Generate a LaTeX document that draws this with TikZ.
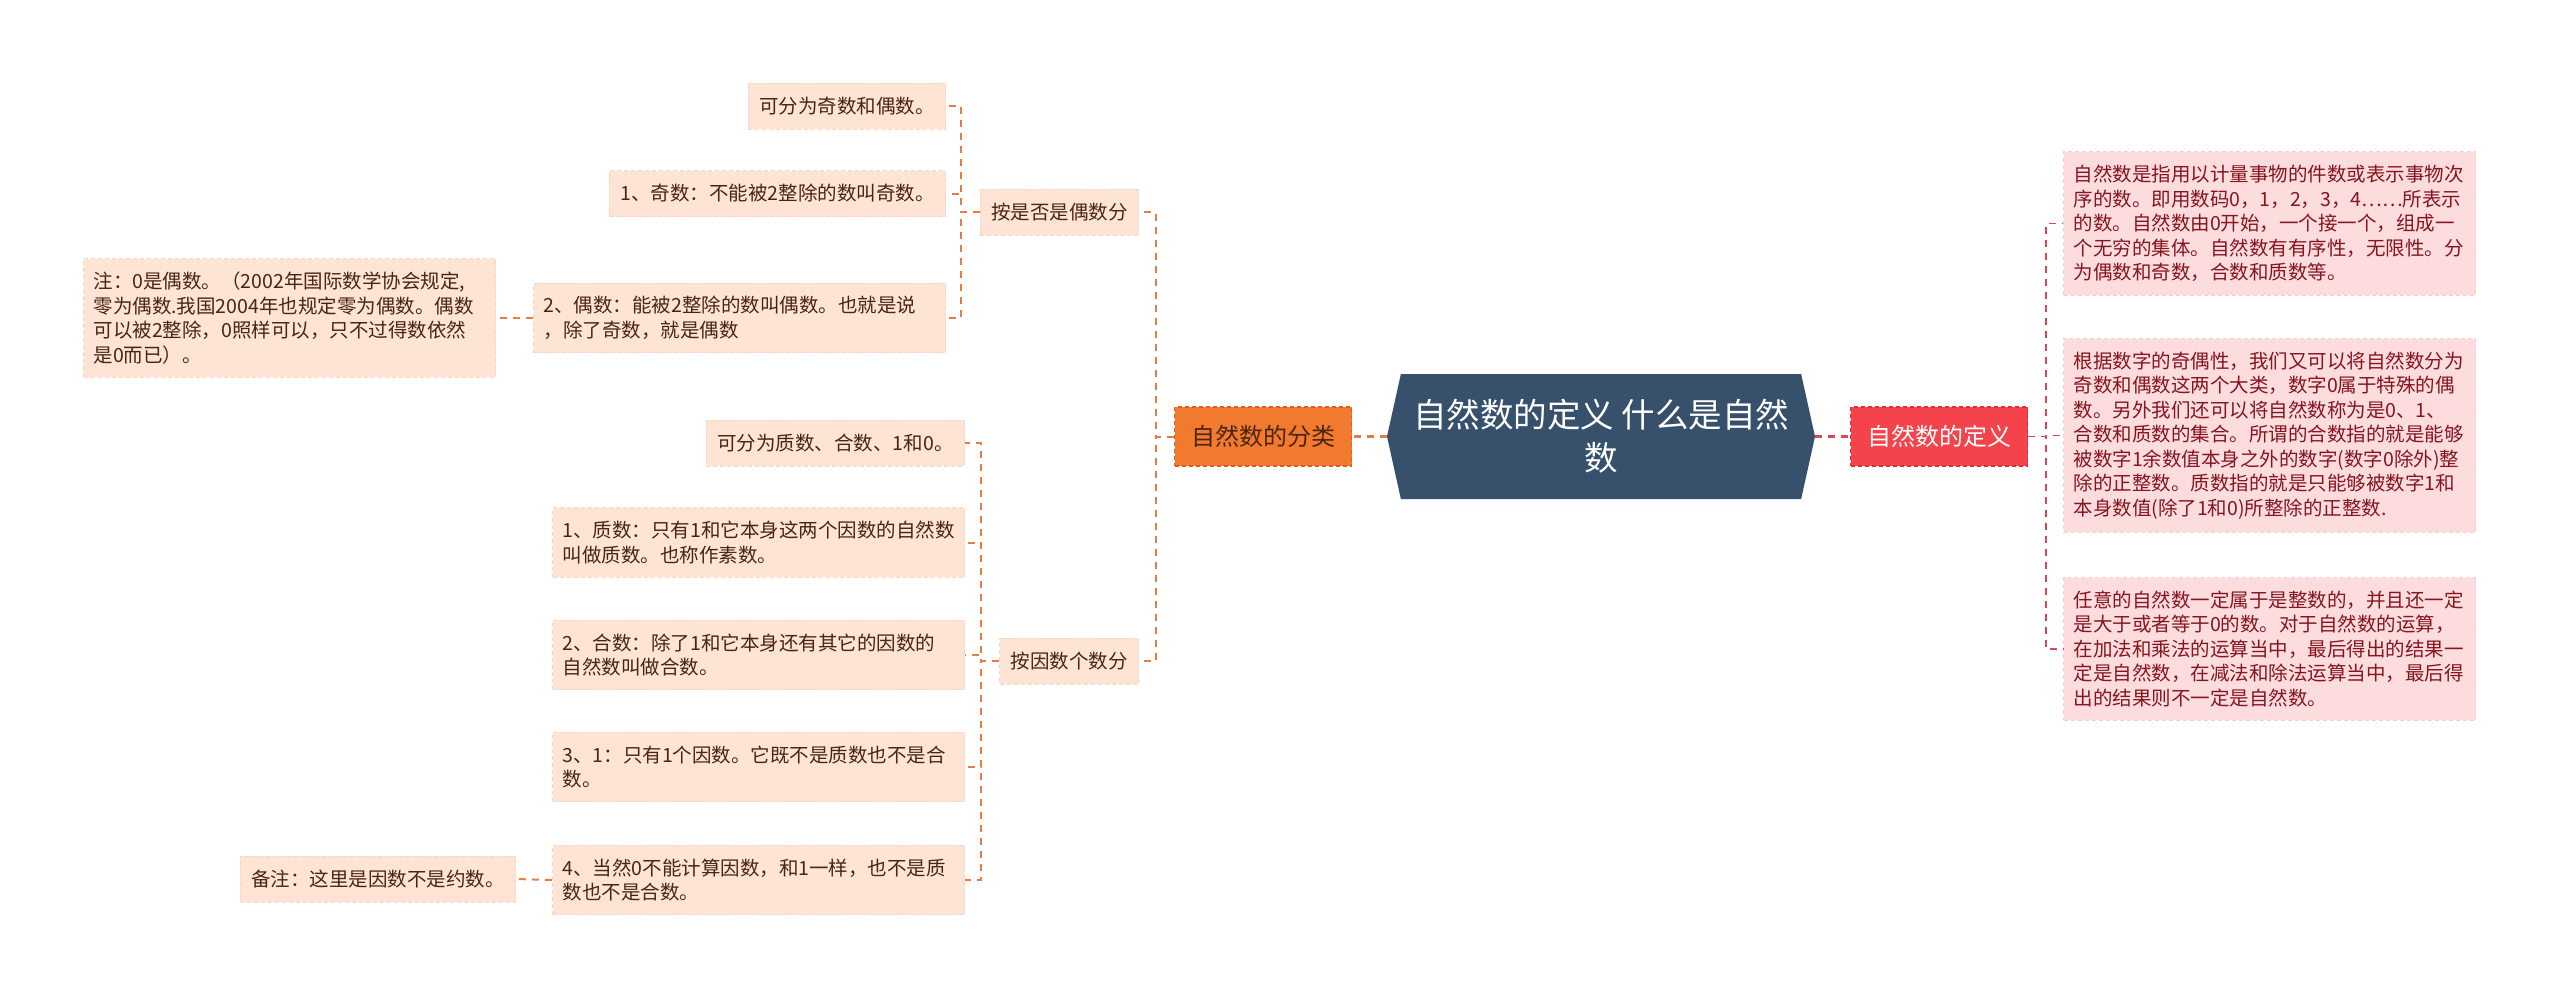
\documentclass[tikz,border=0pt]{standalone}
\usepackage{fontspec}
\setmainfont{Noto Sans CJK SC}
\usetikzlibrary{shapes.symbols}
\definecolor{rootbg}{HTML}{37506B}
\definecolor{clsbg}{HTML}{F17A2E}
\definecolor{clsbd}{HTML}{D9621C}
\definecolor{defbg}{HTML}{F5434B}
\definecolor{defbd}{HTML}{DD303A}
\definecolor{leafbg}{HTML}{FDE4D5}
\definecolor{leafbd}{HTML}{F9D6C2}
\definecolor{rleafbg}{HTML}{FDDCDE}
\definecolor{rleafbd}{HTML}{F8CCD0}
\definecolor{leaftxt}{HTML}{4A2512}
\definecolor{rleaftxt}{HTML}{85151F}
\definecolor{lineL}{HTML}{E57E45}
\definecolor{lineR}{HTML}{DE4752}
\def\fs{\fontsize{9.75}{12.25}\selectfont}

\tikzset{
  box/.style={rectangle, inner xsep=5.5pt, inner ysep=6.6pt, minimum height=23pt,
    font=\fs, dash pattern=on 2pt off 1.5pt, line width=0.5pt},
  lbox/.style={box, fill=leafbg, draw=leafbd, text=leaftxt, anchor=east},
  rbox/.style={box, fill=rleafbg, draw=rleafbd, text=rleaftxt, anchor=west, wide},
  wide/.style={text width=196pt, align=left, inner xsep=5pt},
  topic/.style={rectangle, minimum width=88.5pt, minimum height=29.5pt,
    font=\fontsize{12}{14}\selectfont, dash pattern=on 2pt off 1.5pt, line width=0.7pt},
  root/.style={shape=signal, signal to=west and east, signal pointer angle=155,
    fill=rootbg, text=white, align=center, inner sep=0pt,
    minimum width=214pt, minimum height=62.5pt,
    font=\fontsize{16.75}{21.5}\selectfont},
  lline/.style={draw=lineL, line width=1pt, dash pattern=on 3.5pt off 3pt},
  rline/.style={draw=lineR, line width=0.8pt, dash pattern=on 3.5pt off 3pt},
}

\begin{document}
\begin{tikzpicture}[x=0.5pt,y=-0.5pt]
\useasboundingbox (0,0) rectangle (2560,998);

\node[root] (root) at (1601,436.5) {自然数的定义 什么是自然\\数};
\node[topic, fill=clsbg, draw=clsbd, text=leaftxt] (cls) at (1263,436.5) {自然数的分类};
\node[topic, fill=defbg, draw=defbd, text=white] (def) at (1939,436.5) {自然数的定义};

\node[lbox] (even) at (1139,212) {按是否是偶数分};
\node[lbox] (factor) at (1139,661) {按因数个数分};

\node[lbox] (e0) at (946,106) {可分为奇数和偶数。};
\node[lbox] (e1) at (946,193.5) {1、奇数：不能被2整除的数叫奇数。};
\node[lbox, wide] (e2) at (946,318) {2、偶数：能被2整除的数叫偶数。也就是说\\，除了奇数，就是偶数};
\node[lbox, wide] (note) at (496,318) {注：0是偶数。（2002年国际数学协会规定,\\零为偶数.我国2004年也规定零为偶数。偶数\\可以被2整除，0照样可以，只不过得数依然\\是0而已）。};

\node[lbox] (f0) at (965,443) {可分为质数、合数、1和0。};
\node[lbox, wide] (f1) at (965,542.5) {1、质数：只有1和它本身这两个因数的自然数\\叫做质数。也称作素数。};
\node[lbox, wide] (f2) at (965,655) {2、合数：除了1和它本身还有其它的因数的\\自然数叫做合数。};
\node[lbox, wide] (f3) at (965,767) {3、1：只有1个因数。它既不是质数也不是合\\数。};
\node[lbox, wide] (f4) at (965,880) {4、当然0不能计算因数，和1一样，也不是质\\数也不是合数。};
\node[lbox] (remark) at (516,879) {备注：这里是因数不是约数。};

\node[rbox] (d1) at (2063,223.5) {自然数是指用以计量事物的件数或表示事物次\\序的数。即用数码0，1，2，3，4……所表示\\的数。自然数由0开始，一个接一个，组成一\\个无穷的集体。自然数有有序性，无限性。分\\为偶数和奇数，合数和质数等。};
\node[rbox] (d2) at (2063,435.5) {根据数字的奇偶性，我们又可以将自然数分为\\奇数和偶数这两个大类，数字0属于特殊的偶\\数。另外我们还可以将自然数称为是0、1、\\合数和质数的集合。所谓的合数指的就是能够\\被数字1余数值本身之外的数字(数字0除外)整\\除的正整数。质数指的就是只能够被数字1和\\本身数值(除了1和0)所整除的正整数.};
\node[rbox] (d3) at (2063,649) {任意的自然数一定属于是整数的，并且还一定\\是大于或者等于0的数。对于自然数的运算，\\在加法和乘法的运算当中，最后得出的结果一\\定是自然数，在减法和除法运算当中，最后得\\出的结果则不一定是自然数。};

\draw[lline, line width=1.5pt] (root.west) -- (cls.east);
\draw[rline, line width=1.5pt] (root.east) -- (def.west);
\draw[lline] (cls.west) -- ++(-18,0) |- (even.east);
\draw[lline] (cls.west) -- ++(-18,0) |- (factor.east);
\foreach \n in {e0,e1,e2}{
  \draw[lline] (even.west) -- ++(-19,0) |- (\n.east);
}
\draw[lline] (e2.west) -- (note.east);
\foreach \n in {f0,f1,f2,f3,f4}{
  \draw[lline] (factor.west) -- ++(-18,0) |- (\n.east);
}
\draw[lline] (f4.west) -- (remark.east);
\foreach \n in {d1,d2,d3}{
  \draw[rline] (def.east) -- ++(18,0) |- (\n.west);
}
\end{tikzpicture}
\end{document}
